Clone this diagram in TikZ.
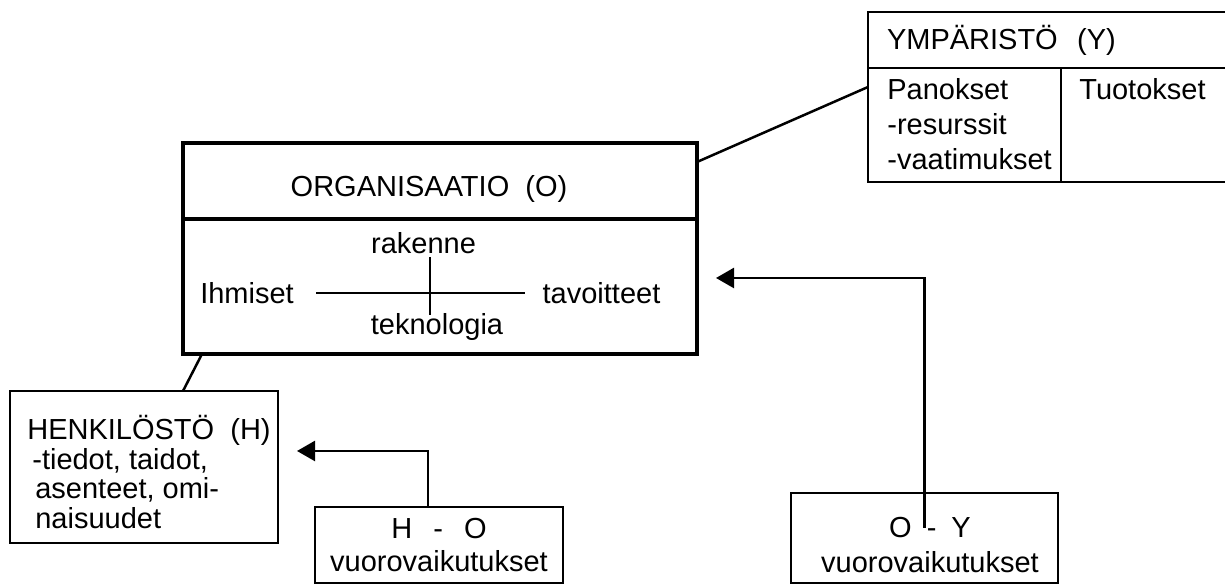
\documentclass[tikz,border=0pt]{standalone}
\usepackage{fontspec}
\setmainfont{Liberation Sans}
\usepackage{tikz}
\usetikzlibrary{arrows.meta, positioning, calc}
\tikzset{
    lbl/.style={font=\fontsize{16.5}{20}\selectfont, inner sep=0pt},
    box/.style={draw, line width=0.05cm, outer sep=0pt, font=\fontsize{16.5}{20}\selectfont},
    heavybox/.style={draw, line width=0.08cm, outer sep=0pt},
    link/.style={line width=0.05cm},
    pointer/.style={line width=0.05cm, -{Triangle[length=0.36cm, width=0.4cm]}},
}

\begin{document}
\begin{tikzpicture}
    \useasboundingbox (0,0) rectangle (24.5,11.7);

    % Ympäristö
    \node[box, minimum width=7.19cm, minimum height=1.12cm, text width=6.43cm, inner xsep=0.38cm, align=left, anchor=north west] (yhead) at (17.36, 11.46) {YMPÄRISTÖ~~(Y)};
    \node[box, minimum width=3.86cm, minimum height=2.28cm, anchor=north west] (ypan) at (yhead.south west) {};
    \node[box, minimum width=3.33cm, minimum height=2.28cm, anchor=north west] (ytuo) at (ypan.north east) {};
    \node[lbl, align=left, anchor=north west] (panokset) at ($(ypan.north west)+(0.38,-0.2)$) {Panokset\\-resurssit\\-vaatimukset};
    \node[lbl, anchor=north west] (tuotokset) at ($(ytuo.north west)+(0.36,-0.2)$) {Tuotokset};

    % Organisaatio
    \node[heavybox, minimum width=10.28cm, minimum height=1.52cm] (ohead) at (8.8, 8.08) {};
    \node[heavybox, minimum width=10.28cm, minimum height=2.7cm, anchor=north] (obody) at (ohead.south) {};
    \node[lbl] (otitle) at (8.58, 7.92) {ORGANISAATIO~~(O)};
    \node[lbl] (rakenne) at (8.47, 6.84) {rakenne};
    \node[lbl] (ihmiset) at (4.94, 5.84) {Ihmiset};
    \node[lbl] (tavoitteet) at (12.03, 5.84) {tavoitteet};
    \node[lbl] (teknologia) at (8.74, 5.16) {teknologia};
    \coordinate (crosstop) at (8.6, 6.56);
    \coordinate (crossbot) at (8.6, 5.4);
    \draw[link] ([xshift=0.44cm]ihmiset.east) -- ([xshift=-0.34cm]tavoitteet.west);
    \draw[link] (crosstop) -- (crossbot);

    % Henkilöstö
    \node[box, minimum width=5.36cm, minimum height=3.04cm] (henk) at (2.88, 2.36) {};
    \node[lbl, align=left, anchor=west, font=\fontsize{16.5}{17}\selectfont] (henktxt) at (0.54, 2.26) {HENKILÖSTÖ~~(H)\\\hspace*{0.1cm}-tiedot, taidot,\\\hspace*{0.16cm}asenteet, omi-\\\hspace*{0.16cm}naisuudet};

    % vuorovaikutukset
    \node[box, minimum width=4.96cm, minimum height=1.52cm, align=center, font=\fontsize{16.5}{18.7}\selectfont] (hovv) at (8.78, 0.8) {H\hspace{0.42cm}-\hspace{0.42cm}O\\vuorovaikutukset};
    \node[box, minimum width=5.34cm, minimum height=1.8cm] (oyvv) at (18.49, 0.94) {};
    \node[lbl, align=center, font=\fontsize{16.5}{20.4}\selectfont] (oytxt) at (18.6, 0.8) {O\hspace{0.3cm}-\hspace{0.3cm}Y\\vuorovaikutukset};

    % yhteydet
    \draw[link] ($(ohead.east)+(0,0.38)$) -- ($(ypan.north west)+(0,-0.38)$);
    \draw[link] ($(obody.south west)+(0.38,0)$) -- ($(henk.north)+(0.78,0)$);
    \draw[pointer] ($(hovv.north)+(-0.22,0)$) |- ($(henk.east)+(0.38,0.32)$);
    \draw[pointer] ($(oyvv.center)+(0,0.2)$) |- ($(obody.east)+(0.38,0.17)$);
\end{tikzpicture}
\end{document}
